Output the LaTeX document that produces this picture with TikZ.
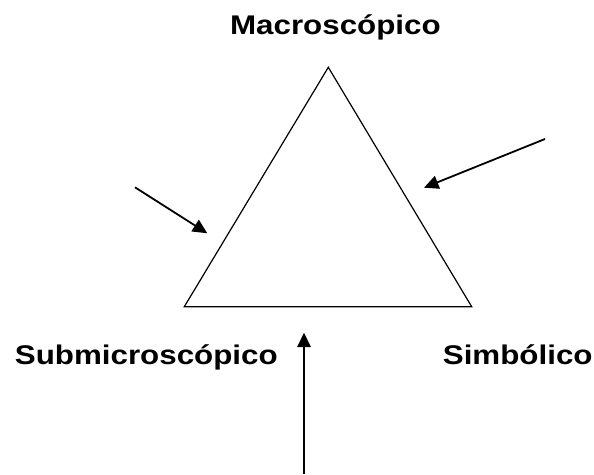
\documentclass[tikz,border=0pt]{standalone}
\usepackage{fontspec}
\setmainfont{Liberation Sans}
\usetikzlibrary{arrows.meta}
\begin{document}
\begin{tikzpicture}[x=1pt,y=-1pt,
  lbl/.style={inner sep=0pt,anchor=base,font=\fontsize{27}{27}\selectfont\bfseries},
  arr/.style={line width=1.8pt,-{Triangle[length=14.5pt,width=13.5pt]}},
  tri/.style={line width=1.2pt,line join=miter}]
\useasboundingbox (0,0) rectangle (594,474);
\coordinate (A) at (328.3,67.3);
\coordinate (B) at (184.3,306.7);
\coordinate (C) at (471.7,306.7);
\draw[tri] (A) -- (B) -- (C) -- cycle;
\node[lbl] (mac) at (335.4,34.3) {\scalebox{1.16}[1]{Macroscópico}};
\node[lbl] (sub) at (146.3,364.3) {\scalebox{1.16}[1]{Submicroscópico}};
\node[lbl] (sim) at (517.7,364.3) {\scalebox{1.16}[1]{Simbólico}};
\coordinate (l0) at (135,187.3);
\coordinate (l1) at (207.3,233.3);
\coordinate (r0) at (545,139);
\coordinate (r1) at (424,187.7);
\coordinate (b0) at (304,474);
\coordinate (b1) at (304,332.7);
\draw[arr] (l0) -- (l1);
\draw[arr] (r0) -- (r1);
\draw[arr] (b0) -- (b1);
\end{tikzpicture}
\end{document}
